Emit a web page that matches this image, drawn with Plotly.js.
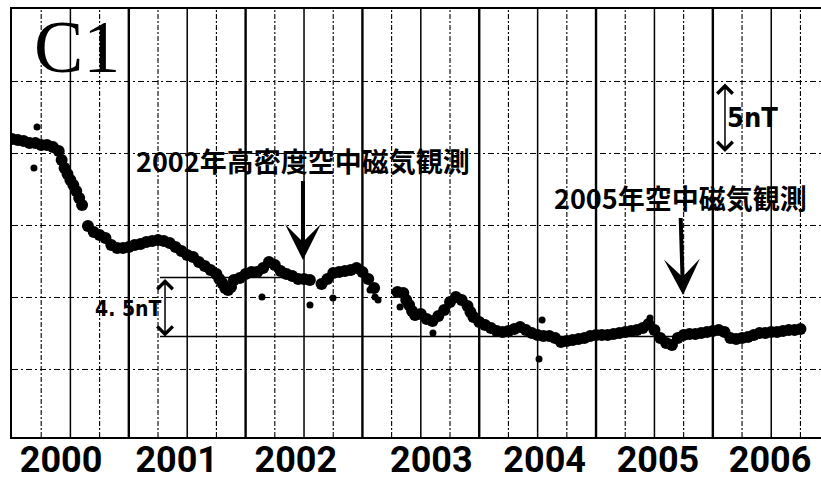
<!DOCTYPE html>
<html><head><meta charset="utf-8">
<script src="https://cdn.plot.ly/plotly-3.0.1.min.js"></script>
<style>body{margin:0;background:#fff}#c{width:821px;height:481px}</style>
</head><body><div id="c"></div>
<script>
// decimal year of each reading
const years = [
 2000.00,2000.05,2000.10,2000.15,2000.20,2000.25,2000.30,2000.35,2000.40,2000.425,
 2000.45,2000.475,2000.50,2000.525,2000.55,2000.575,2000.60,
 2000.65,2000.70,2000.75,2000.80,2000.85,2000.90,2000.95,2001.00,2001.05,2001.10,
 2001.15,2001.20,2001.25,2001.30,2001.35,2001.40,2001.45,2001.50,2001.55,2001.60,
 2001.65,2001.70,2001.75,2001.775,2001.80,2001.825,2001.85,2001.875,2001.90,2001.95,
 2002.00,2002.05,2002.10,2002.15,2002.20,2002.25,2002.30,2002.35,2002.40,2002.45,
 2002.50,2002.55,
 2002.65,2002.70,2002.75,2002.80,2002.85,2002.90,2002.95,2003.00,2003.05,2003.10,
 2003.30,2003.35,2003.375,2003.40,2003.425,2003.45,2003.50,2003.55,2003.60,2003.65,
 2003.70,2003.75,2003.80,2003.85,2003.90,2003.925,2003.95,2004.00,2004.05,2004.10,
 2004.15,2004.20,2004.25,2004.30,2004.35,2004.40,2004.45,2004.50,2004.55,2004.60,
 2004.65,2004.70,2004.75,2004.80,2004.85,2004.90,2004.95,2005.00,2005.05,2005.10,
 2005.15,2005.20,2005.25,2005.30,2005.35,2005.40,2005.45,2005.50,2005.55,2005.60,
 2005.65,2005.70,2005.75,2005.80,2005.85,2005.90,2005.95,2006.00,2006.05,2006.10,
 2006.15,2006.20,2006.25,2006.30,2006.35,2006.40,2006.45,2006.50,2006.55,2006.60,
 2006.65,2006.70,2006.75
];
// relative total field (nT)
const field = [
 20.97,20.90,20.83,20.69,20.69,20.56,20.56,20.42,20.14,19.51,
 18.96,18.54,18.13,17.78,17.36,16.88,16.39,
 14.93,14.51,14.31,14.10,13.61,13.40,13.40,13.47,13.61,13.68,
 13.82,13.89,13.96,13.89,13.75,13.47,13.19,12.92,12.78,12.43,
 12.15,11.88,11.60,11.25,10.97,10.63,10.49,10.69,11.18,11.32,
 11.60,11.74,11.74,12.01,12.43,12.22,11.81,11.60,11.46,11.25,
 11.25,11.18,
 10.90,11.25,11.67,11.74,11.81,11.88,12.01,11.74,11.25,10.63,
 10.35,10.28,9.79,9.44,9.03,8.75,8.82,8.47,8.33,8.68,
 9.10,9.65,10.00,9.79,9.38,8.96,8.61,8.26,8.06,7.85,
 7.64,7.57,7.64,7.78,7.92,7.71,7.50,7.36,7.29,7.29,
 7.15,6.88,6.94,7.01,7.08,7.15,7.29,7.36,7.36,7.36,
 7.43,7.50,7.57,7.64,7.71,7.85,8.13,7.71,7.15,6.81,
 6.67,7.15,7.36,7.43,7.43,7.50,7.57,7.64,7.71,7.57,
 7.15,7.08,7.15,7.22,7.36,7.50,7.50,7.57,7.57,7.64,
 7.71,7.71,7.78
];
const outlierYears = [2000.188,2000.214,2002.140,2002.551,2002.748,2003.065,2003.108,2003.134,2003.322,2003.604,2004.512,2004.538,2005.462];
const outlierField = [18.96,21.81,10.00,9.44,9.93,10.49,10.00,9.79,9.31,7.50,5.69,8.40,8.54];

const yearLabels = ['2000','2001','2002','2003','2004','2005','2006'];
const yearLabelPos = [2000.42,2001.41,2002.43,2003.59,2004.56,2005.53,2006.49];

const quarterLines = [];
for (let q = 1; q <= 27; q++) quarterLines.push(2000 + q / 4);

const shapes = quarterLines.map((x, i) => {
  const q = i + 1;
  const yr = q % 4 === 0, half = q % 2 === 0;
  return {type:'line', xref:'x', yref:'paper', x0:x, x1:x, y0:0, y1:1, layer:'below',
    line:{color:'#000', width: yr ? 2.4 : (half ? 1.5 : 1.1), dash: half ? 'solid' : '5px,2px,2px,2px'}};
});
// 4.5 nT reference box lines
shapes.push({type:'line', xref:'x', yref:'y', x0:2001.267, x1:2002.594, y0:11.35, y1:11.35, line:{color:'#000', width:1.5}});
shapes.push({type:'line', xref:'x', yref:'y', x0:2001.267, x1:2005.9, y0:7.25, y1:7.25, line:{color:'#000', width:1.5}});

const jp = '"Noto Sans CJK JP", sans-serif';
const narrow = '"Liberation Sans Narrow", "DejaVu Sans Condensed", sans-serif';

const annotations = [
  {x:2000.557, y:27.35, text:'C1', showarrow:false, font:{family:'"Liberation Serif", serif', size:74, color:'#000'}},
  {x:2002.491, y:12.57, ax:0, ay:-100, text:'2002年高密度空中磁気観測', showarrow:true,
   arrowhead:3, arrowsize:1.5, arrowwidth:4, arrowcolor:'#000',
   font:{family:jp, size:27, color:'#000', weight:'bold'}},
  {x:2005.745, y:10.14, ax:-3, ay:-98, text:'2005年空中磁気観測', showarrow:true,
   arrowhead:3, arrowsize:1.5, arrowwidth:4, arrowcolor:'#000',
   font:{family:jp, size:27, color:'#000', weight:'bold'}},
  {x:2006.104, y:20.07, ax:2006.104, ay:24.93, axref:'x', ayref:'y', text:'', showarrow:true,
   arrowside:'end+start', arrowhead:4, startarrowhead:4, arrowsize:2, startarrowsize:2, arrowwidth:1.5, arrowcolor:'#000'},
  {x:2006.336, y:22.5, text:'5nT', showarrow:false, font:{family:narrow, size:27, color:'#000', weight:'bold'}},
  {x:2001.31, y:7.25, ax:2001.31, ay:11.35, axref:'x', ayref:'y', text:'', showarrow:true,
   arrowside:'end+start', arrowhead:4, startarrowhead:4, arrowsize:2, startarrowsize:2, arrowwidth:1.5, arrowcolor:'#000'},
  {x:2000.99, y:9.17, text:'4. 5nT', showarrow:false, font:{family:narrow, size:21, color:'#000', weight:'bold'}}
];

const traces = [
  {x:years, y:field, type:'scatter', mode:'markers', marker:{color:'#000', size:12}, hoverinfo:'skip'},
  {x:outlierYears, y:outlierField, type:'scatter', mode:'markers', marker:{color:'#000', size:7}, hoverinfo:'skip'}
];

const layout = {
  width:821, height:481, showlegend:false,
  paper_bgcolor:'#fff', plot_bgcolor:'#fff',
  margin:{l:12, r:0, t:9, b:44},
  xaxis:{range:[2000, 2006.926], tickvals:yearLabelPos, ticktext:yearLabels, showgrid:false, zeroline:false,
    showline:true, linecolor:'#000', linewidth:2, mirror:true, ticks:'', ticklabelstandoff:-10,
    tickfont:{family:'Roboto, sans-serif', size:36, color:'#000', weight:'bold'}},
  yaxis:{range:[0.28, 30], tick0:0, dtick:5, showticklabels:false, showgrid:true, gridcolor:'#000', gridwidth:1,
    griddash:'6px,3px,2px,3px', zeroline:false, showline:true, linecolor:'#000', linewidth:2, ticks:''},
  shapes:shapes, annotations:annotations
};
Plotly.newPlot('c', traces, layout, {staticPlot:true, displayModeBar:false});
</script></body></html>
